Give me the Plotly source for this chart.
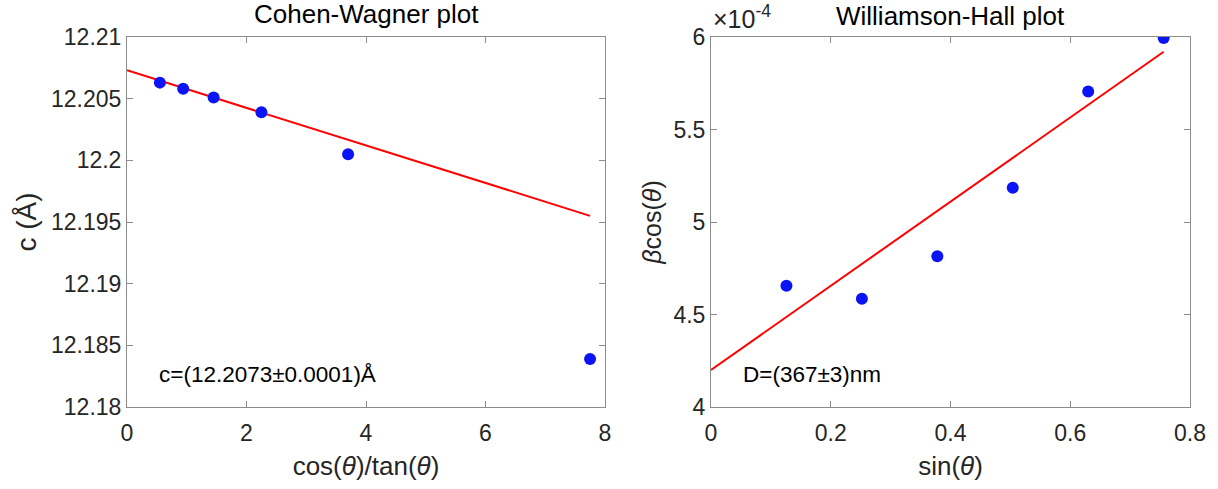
import plotly.graph_objects as go

# ---------------- data ----------------
# Cohen-Wagner plot
cw_x = [0.55, 0.94, 1.45, 2.25, 3.70, 7.75]
cw_c = [12.2063, 12.2058, 12.2051, 12.2039, 12.2005, 12.1839]
cw_fit_x = [0.0, 7.75]
cw_fit_c = [12.2073, 12.1955]
cw_yticks = [12.18, 12.185, 12.19, 12.195, 12.2, 12.205, 12.21]
cw_yticktext = ["12.18", "12.185", "12.19", "12.195", "12.2", "12.205", "12.21"]

# Williamson-Hall plot (values in units of 1e-4)
wh_x = [0.126, 0.252, 0.378, 0.504, 0.630, 0.756]
wh_y = [4.655, 4.585, 4.815, 5.185, 5.705, 5.995]
wh_fit_x = [0.0, 0.756]
wh_fit_y = [4.20, 5.92]
wh_yticks = [4, 4.5, 5, 5.5, 6]
wh_yticktext = ["4", "4.5", "5", "5.5", "6"]

FONT = "Liberation Sans, Arial, sans-serif"
TICKCOL = "#262626"
LINECOL = "#8c8c8c"
BLUE = "#0a14f5"
RED = "#ff0000"

fig = go.Figure()
fig.add_trace(go.Scatter(x=cw_fit_x, y=cw_fit_c, mode="lines",
                         line=dict(color=RED, width=2), xaxis="x", yaxis="y", showlegend=False))
fig.add_trace(go.Scatter(x=cw_x, y=cw_c, mode="markers",
                         marker=dict(color=BLUE, size=12), xaxis="x", yaxis="y", showlegend=False))
fig.add_trace(go.Scatter(x=wh_fit_x, y=wh_fit_y, mode="lines",
                         line=dict(color=RED, width=2), xaxis="x2", yaxis="y2", showlegend=False))
fig.add_trace(go.Scatter(x=wh_x, y=wh_y, mode="markers",
                         marker=dict(color=BLUE, size=12), xaxis="x2", yaxis="y2", showlegend=False))

W, H = 1218, 489
L1, R1 = 127, 605
L2, R2 = 711, 1190
T, B = 37, 407

ax_common = dict(showline=True, linecolor=LINECOL, linewidth=1, mirror="ticks",
                 ticks="inside", ticklen=6, tickcolor=LINECOL, showgrid=False, zeroline=False,
                 automargin=False,
                 tickfont=dict(family=FONT, size=23, color=TICKCOL))

fig.update_layout(
    width=W, height=H,
    margin=dict(l=0, r=0, t=0, b=0),
    paper_bgcolor="white", plot_bgcolor="white",
    font=dict(family=FONT, color=TICKCOL),
    xaxis=dict(domain=[L1 / W, R1 / W], range=[0, 8], tickvals=[0, 2, 4, 6, 8],
               ticklabelstandoff=5,
               title=dict(text="cos(<i>θ</i>)/tan(<i>θ</i>)", font=dict(family=FONT, size=26, color=TICKCOL),
                          standoff=12),
               anchor="y", **ax_common),
    yaxis=dict(domain=[1 - B / H, 1 - T / H], range=[12.18, 12.21], tickvals=cw_yticks,
               ticktext=cw_yticktext,
               title=dict(text="c (Å)", font=dict(family=FONT, size=28, color=TICKCOL), standoff=6),
               anchor="x", **ax_common),
    xaxis2=dict(domain=[L2 / W, R2 / W], range=[0, 0.8], tickvals=[0, 0.2, 0.4, 0.6, 0.8],
                ticktext=["0", "0.2", "0.4", "0.6", "0.8"], ticklabelstandoff=5,
                title=dict(text="sin(<i>θ</i>)", font=dict(family=FONT, size=26, color=TICKCOL),
                           standoff=12),
                anchor="y2", **ax_common),
    yaxis2=dict(domain=[1 - B / H, 1 - T / H], range=[4, 6], tickvals=wh_yticks,
                ticktext=wh_yticktext,
                title=dict(text="<i>β</i>cos(<i>θ</i>)", font=dict(family=FONT, size=25, color=TICKCOL),
                           standoff=4),
                anchor="x2", **ax_common),
)

fig.add_annotation(text="Cohen-Wagner plot", xref="x domain", yref="y domain", x=0.5, y=1,
                   xanchor="center", yanchor="bottom", yshift=6, showarrow=False,
                   font=dict(family=FONT, size=26, color="black"))
fig.add_annotation(text="Williamson-Hall plot", xref="x2 domain", yref="y2 domain", x=0.5, y=1,
                   xanchor="center", yanchor="bottom", yshift=4, showarrow=False,
                   font=dict(family=FONT, size=26, color="black"))
fig.add_annotation(text="×10<sup>-4</sup>", xref="x2 domain", yref="y2 domain", x=0, y=1,
                   xanchor="left", yanchor="bottom", yshift=2, showarrow=False,
                   font=dict(family=FONT, size=25, color=TICKCOL))
fig.add_annotation(text="c=(12.2073±0.0001)Å", xref="x", yref="y", x=0.5, y=12.1826,
                   xanchor="left", yanchor="middle", showarrow=False,
                   font=dict(family=FONT, size=22.5, color="black"))
fig.add_annotation(text="D=(367±3)nm", xref="x2", yref="y2", x=0.05, y=4.178,
                   xanchor="left", yanchor="middle", showarrow=False,
                   font=dict(family=FONT, size=22.5, color="black"))

fig.write_html("out.html")
